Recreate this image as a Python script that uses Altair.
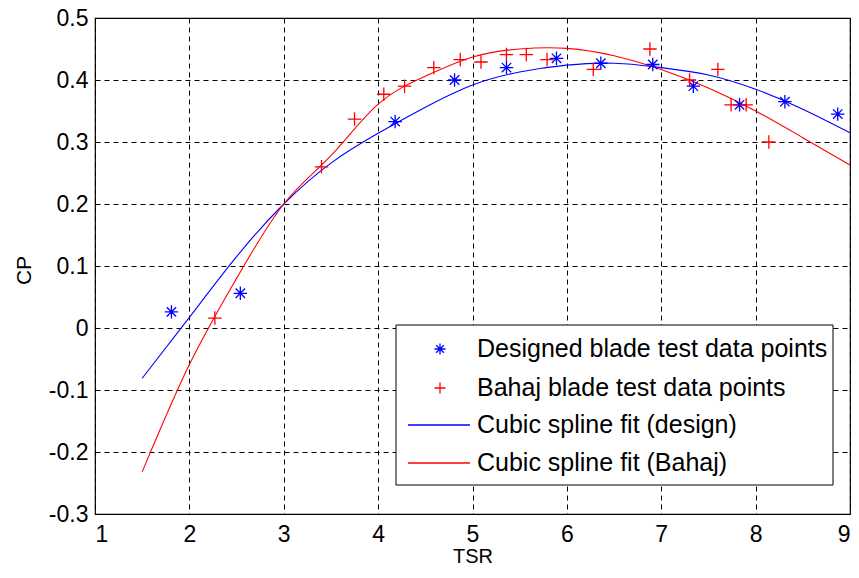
import altair as alt
import pandas as pd

# ---------------- data ----------------
design_tsr = [1.81, 2.54, 4.18, 4.81, 5.36, 5.89, 6.36, 6.91, 7.34, 7.83, 8.31, 8.87]
design_cp = [0.026, 0.056, 0.333, 0.400, 0.420, 0.435, 0.427, 0.425, 0.390, 0.360, 0.365, 0.345]

bahaj_tsr = [2.27, 3.40, 3.75, 4.06, 4.28, 4.59, 4.87, 5.09, 5.36, 5.57, 5.79, 6.28,
             6.88, 7.30, 7.60, 7.74, 7.90, 8.14]
bahaj_cp = [0.016, 0.260, 0.337, 0.377, 0.390, 0.420, 0.433, 0.429, 0.441, 0.441, 0.433, 0.417,
            0.450, 0.400, 0.417, 0.360, 0.360, 0.300]

fit_tsr = [1.5, 2.0, 2.5, 3.0, 3.5, 4.0, 4.5, 5.0, 5.5, 6.0, 6.5, 7.0, 7.5, 8.0, 8.5, 9.0]
fit_design = [-0.081, 0.017, 0.115, 0.200, 0.266, 0.314, 0.356, 0.392, 0.413, 0.424,
              0.427, 0.420, 0.408, 0.385, 0.353, 0.315]
fit_bahaj = [-0.232, -0.059, 0.080, 0.200, 0.278, 0.361, 0.406, 0.437, 0.450, 0.451,
             0.439, 0.417, 0.387, 0.350, 0.307, 0.263]

x_ticks = [1, 2, 3, 4, 5, 6, 7, 8, 9]
y_ticks = [-0.3, -0.2, -0.1, 0, 0.1, 0.2, 0.3, 0.4, 0.5]

legend_labels = ["Designed blade test data points", "Bahaj blade test data points",
                 "Cubic spline fit (design)", "Cubic spline fit (Bahaj)"]

# ---------------- tables ----------------
df_design = pd.DataFrame({"tsr": design_tsr, "cp": design_cp})
df_bahaj = pd.DataFrame({"tsr": bahaj_tsr, "cp": bahaj_cp})
df_fit_d = pd.DataFrame({"tsr": fit_tsr, "cp": fit_design})
df_fit_b = pd.DataFrame({"tsr": fit_tsr, "cp": fit_bahaj})
one = pd.DataFrame({"a": [0]})

FONT = "Liberation Sans"
BLUE = "#0000ff"
RED = "#ff0000"
ASTERISK = "M-1,0L1,0M0,-1L0,1M-0.7,-0.7L0.7,0.7M-0.7,0.7L0.7,-0.7"
PLUS = "M-1,0L1,0M0,-1L0,1"

xscale = alt.Scale(domain=[1, 9], nice=False, zero=False)
yscale = alt.Scale(domain=[-0.3, 0.5], nice=False, zero=False)

xaxis = alt.Axis(values=x_ticks, format="d", grid=True, gridDash=[5, 4], gridColor="#000000",
                 gridWidth=1, ticks=False, tickSize=0, domain=False, labelFontSize=23,
                 labelFont=FONT, labelColor="#000000", labelPadding=9, title="TSR",
                 titleFont=FONT, titleFontSize=20, titleFontWeight="normal", titleColor="#000000",
                 titleY=48, titleBaseline="alphabetic")
yaxis = alt.Axis(values=y_ticks, grid=True, gridDash=[5, 4], gridColor="#000000", gridWidth=1,
                 ticks=False, tickSize=0, domain=False, labelFontSize=23, labelFont=FONT,
                 labelColor="#000000", labelPadding=7,
                 labelExpr="datum.value == 0 ? '0' : '' + round(datum.value * 10) / 10",
                 title="CP", titleFont=FONT, titleFontSize=21, titleFontWeight="normal",
                 titleColor="#000000", titleAngle=270, titleX=-65, titleY=252,
                 titleAlign="center", titleBaseline="alphabetic")

line_d = alt.Chart(df_fit_d).mark_line(color=BLUE, strokeWidth=1.1, interpolate="natural").encode(
    x=alt.X("tsr:Q", scale=xscale, axis=xaxis),
    y=alt.Y("cp:Q", scale=yscale, axis=yaxis),
)
line_b = alt.Chart(df_fit_b).mark_line(color=RED, strokeWidth=1.1, interpolate="natural").encode(
    x="tsr:Q", y="cp:Q")

pts_d = alt.Chart(df_design).mark_point(shape=ASTERISK, filled=False, stroke=BLUE,
                                        strokeWidth=1.3, size=180, opacity=1).encode(
    x="tsr:Q", y="cp:Q")
pts_b = alt.Chart(df_bahaj).mark_point(shape=PLUS, filled=False, stroke=RED,
                                       strokeWidth=1.3, size=180, opacity=1).encode(
    x="tsr:Q", y="cp:Q")

# ---------------- legend (drawn box) ----------------
box = alt.Chart(one).mark_rect(fill="white", stroke="#000000", strokeWidth=1).encode(
    x=alt.value(301), x2=alt.value(738), y=alt.value(307), y2=alt.value(467))

rows_y = [331, 370, 407, 445]
leg_pd = alt.Chart(one).mark_point(shape=ASTERISK, filled=False, stroke=BLUE, strokeWidth=1.3,
                                   size=120, opacity=1).encode(x=alt.value(345), y=alt.value(rows_y[0]))
leg_pb = alt.Chart(one).mark_point(shape=PLUS, filled=False, stroke=RED, strokeWidth=1.3,
                                   size=120, opacity=1).encode(x=alt.value(345), y=alt.value(rows_y[1]))
leg_ld = alt.Chart(one).mark_rule(color=BLUE, strokeWidth=1.3).encode(
    x=alt.value(313), x2=alt.value(375), y=alt.value(rows_y[2]))
leg_lb = alt.Chart(one).mark_rule(color=RED, strokeWidth=1.3).encode(
    x=alt.value(313), x2=alt.value(375), y=alt.value(rows_y[3]))
leg_texts = [
    alt.Chart(one).mark_text(align="left", baseline="middle", font=FONT, fontSize=25,
                             color="#000000").encode(
        x=alt.value(382), y=alt.value(ry), text=alt.value(lab))
    for ry, lab in zip(rows_y, legend_labels)
]

chart = alt.layer(line_d, line_b, pts_d, pts_b, box, leg_pd, leg_pb, leg_ld, leg_lb, *leg_texts).properties(
    width=755, height=496,
    autosize="none",
    padding={"left": 87, "top": 10, "right": 1, "bottom": 53},
    background="white",
).configure_view(stroke="#000000", strokeWidth=1.2)

chart.save("out.html", embed_options={"renderer": "svg", "actions": False})
